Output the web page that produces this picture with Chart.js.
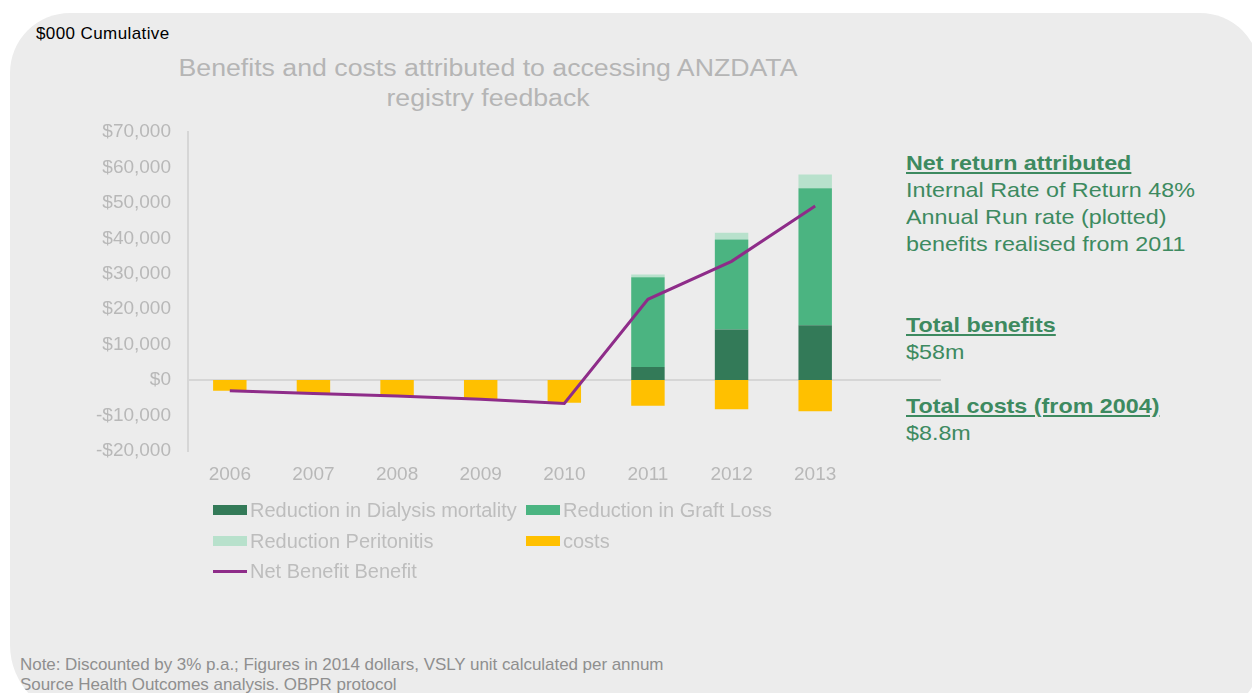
<!DOCTYPE html>
<html>
<head>
<meta charset="utf-8">
<script src="https://cdn.jsdelivr.net/npm/chart.js@4.4.1/dist/chart.umd.min.js"></script>
<style>
  html, body { margin: 0; padding: 0; background: #ffffff; overflow: hidden; }
  body { width: 1252px; height: 693px; position: relative; font-family: "Liberation Sans", Arial, sans-serif; }
  #panel {
    position: absolute; left: 10px; top: 13px; width: 1250px; height: 704px;
    background: #ececec; border-radius: 60px 60px 60px 72px; overflow: hidden;
  }
  #chart-wrap { position: absolute; left: 0; top: 0; width: 1252px; height: 693px; }
  .abs { position: absolute; white-space: nowrap; }
  #units { left: 26px; top: 11px; font-size: 17px; color: #000; letter-spacing: 0.4px; }
  #title { left: 163px; top: 40px; width: 630px; text-align: center; font-size: 23px; line-height: 30px; color: #b5b5b5;
           transform: scaleX(1.16); transform-origin: 50% 0; }
  #notes { left: 10px; top: 642px; font-size: 17px; line-height: 20px; color: #8f8f8f; letter-spacing: -0.05px; }
  #side { left: 896px; top: 136px; font-size: 21px; line-height: 27px; color: #3d8a60; transform: scaleX(1.11); transform-origin: 0 0; }
  #side b { text-decoration: underline; }
  #legend { position: absolute; left: 213px; top: 496px; }
  .leg-item { position: absolute; height: 28px; line-height: 28px; font-size: 20px; color: #bdbdbd; white-space: nowrap; }
  .leg-swatch { display: inline-block; width: 34px; vertical-align: middle; margin-right: 3px; margin-top: -3px; }
</style>
</head>
<body>
<div id="panel">
  <div id="units" class="abs">$000 Cumulative</div>
  <div id="title" class="abs">Benefits and costs attributed to accessing ANZDATA<br>registry feedback</div>
  <div id="side" class="abs">
    <b>Net return attributed</b><br>
    Internal Rate of Return 48%<br>
    Annual Run rate (plotted)<br>
    benefits realised from 2011<br>
    <br>
    <br>
    <b>Total benefits</b><br>
    $58m<br>
    <br>
    <b>Total costs (from 2004)</b><br>
    $8.8m
  </div>
  <div id="notes" class="abs">Note: Discounted by 3% p.a.; Figures in 2014 dollars, VSLY unit calculated per annum<br>Source Health Outcomes analysis. OBPR protocol</div>
</div>
<div id="chart-wrap"><canvas id="chart" width="1252" height="693"></canvas></div>
<div id="legend"></div>

<script>
// $000, cumulative
const years = ["2006", "2007", "2008", "2009", "2010", "2011", "2012", "2013"];
const dialysisMortality = [0, 0, 0, 0, 0, 3700, 14300, 15500];
const graftLoss = [0, 0, 0, 0, 0, 25300, 25400, 38600];
const peritonitis = [0, 0, 0, 0, 0, 800, 1900, 3900];
const costs = [-3000, -3800, -4500, -5300, -6400, -7200, -8200, -8800];
const netBenefit = [-3000, -3800, -4500, -5400, -6600, 22800, 33500, 49100];

// zero line runs a bit past the last category, like the original
const zeroLine = {
  id: "zeroLine",
  beforeDatasetsDraw(chart) {
    const y = chart.scales.y.getPixelForValue(0);
    const ctx = chart.ctx;
    ctx.save();
    ctx.strokeStyle = "#d6d6d6";
    ctx.lineWidth = 2;
    ctx.beginPath();
    ctx.moveTo(chart.chartArea.left, y);
    ctx.lineTo(941, y);
    ctx.stroke();
    ctx.restore();
  },
};

const barCommon = { stack: "bars", order: 1, barPercentage: 0.4, categoryPercentage: 1 };

const chart = new Chart(document.getElementById("chart").getContext("2d"), {
  data: {
    labels: years,
    datasets: [
      { type: "bar", label: "Reduction in Dialysis mortality", data: dialysisMortality, backgroundColor: "#337a58", ...barCommon },
      { type: "bar", label: "Reduction in Graft Loss", data: graftLoss, backgroundColor: "#4bb481", ...barCommon },
      { type: "bar", label: "Reduction Peritonitis", data: peritonitis, backgroundColor: "#b8e1cc", ...barCommon },
      { type: "bar", label: "costs", data: costs, backgroundColor: "#ffc000", ...barCommon },
      {
        type: "line", label: "Net Benefit Benefit", data: netBenefit, stack: "net", order: 0,
        borderColor: "#8e2c89", borderWidth: 3, pointRadius: 0, tension: 0, fill: false,
      },
    ],
  },
  options: {
    responsive: false,
    animation: false,
    layout: { padding: { left: 0, top: 132, right: 395, bottom: 0 } },
    plugins: { legend: { display: false }, title: { display: false }, tooltip: { enabled: false } },
    scales: {
      x: {
        stacked: true,
        grid: { display: false, drawTicks: false },
        border: { display: false },
        ticks: { color: "#b8b8b8", font: { family: "Liberation Sans", size: 19 }, padding: 12 },
        afterFit(scale) { scale.height = 242; },
      },
      y: {
        stacked: true,
        min: -20000,
        max: 70000,
        grid: { display: false, drawTicks: false },
        border: { display: true, color: "#d6d6d6", width: 2 },
        ticks: {
          stepSize: 10000,
          color: "#b8b8b8",
          font: { family: "Liberation Sans", size: 19 },
          padding: 17,
          callback: (v) => (v < 0 ? "-$" : "$") + Math.abs(v).toLocaleString("en-US"),
        },
        afterFit(scale) { scale.width = 188; },
      },
    },
  },
  plugins: [zeroLine],
});

// legend laid out in two columns like the original
const legendSlots = [[0, 0], [313, 0], [0, 30.5], [313, 30.5], [0, 61]];
const legendEl = document.getElementById("legend");
chart.data.datasets.forEach((ds, i) => {
  const item = document.createElement("div");
  item.className = "leg-item";
  item.style.left = legendSlots[i][0] + "px";
  item.style.top = legendSlots[i][1] + "px";
  const sw = document.createElement("span");
  sw.className = "leg-swatch";
  if (ds.type === "line") {
    sw.style.height = "3px";
    sw.style.background = ds.borderColor;
  } else {
    sw.style.height = "10px";
    sw.style.background = ds.backgroundColor;
  }
  item.appendChild(sw);
  item.appendChild(document.createTextNode(ds.label));
  legendEl.appendChild(item);
});
</script>
</body>
</html>
